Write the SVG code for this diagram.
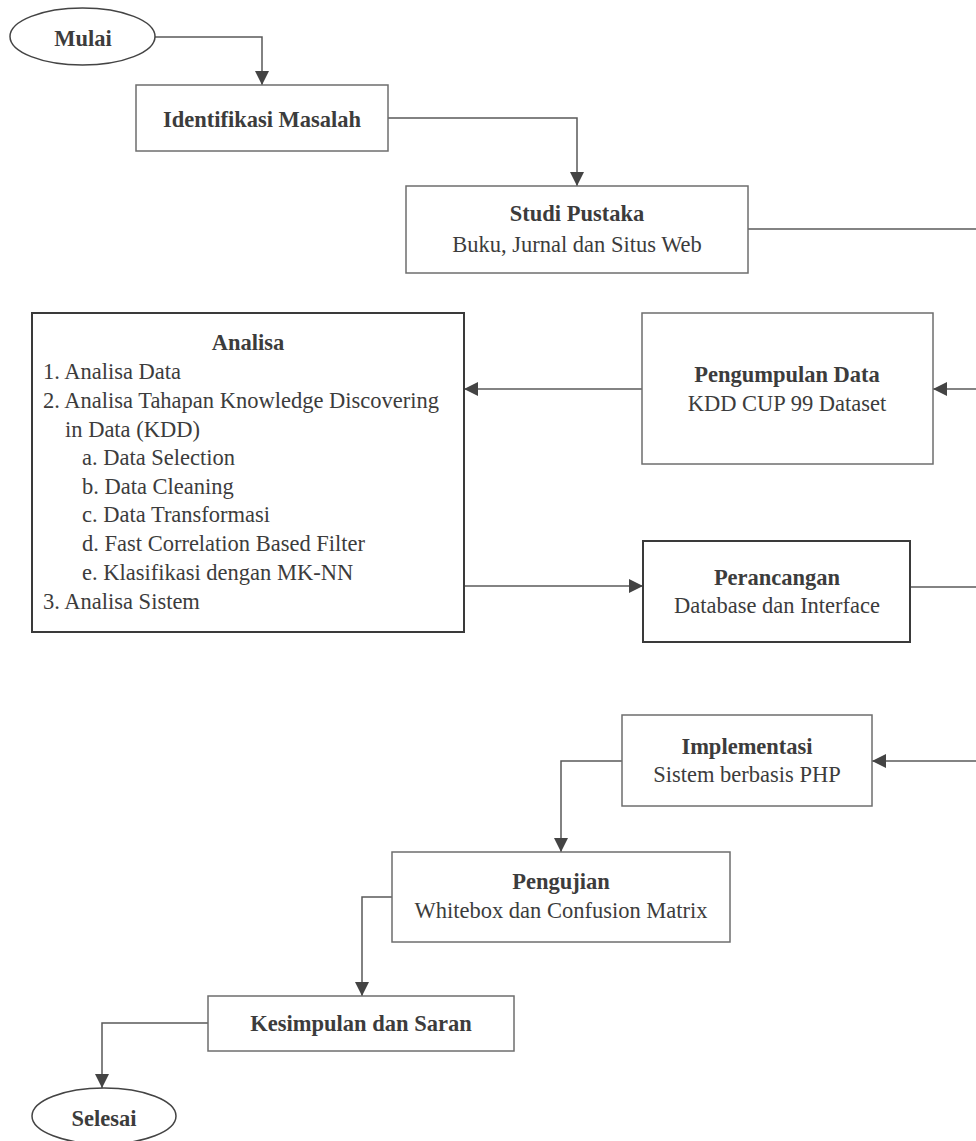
<svg xmlns="http://www.w3.org/2000/svg" width="976" height="1141" viewBox="0 0 976 1141">
<style>
  .t{font-family:"Liberation Serif","Times New Roman",serif;font-size:22.5px;fill:#3c3c3c}
  .b{font-weight:bold}
  .c{text-anchor:middle}
  .box{fill:#fff;stroke:#6e6e6e;stroke-width:1.5}
  .boxd{fill:#fff;stroke:#3a3a3a;stroke-width:2}
  .ell{fill:#fff;stroke:#444;stroke-width:1.5}
  .ln{fill:none;stroke:#5a5a5a;stroke-width:1.5}
</style>
<defs>
  <marker id="ah" viewBox="0 0 14 14" refX="14" refY="7" markerWidth="14" markerHeight="14" orient="auto" markerUnits="userSpaceOnUse">
    <path d="M0,0 L14,7 L0,14 z" fill="#444"/>
  </marker>
</defs>
<rect width="976" height="1141" fill="#fff"/>
<g id="connectors">
  <path class="ln" d="M155,37 H262 V85" marker-end="url(#ah)"/>
  <path class="ln" d="M388,118 H577 V186" marker-end="url(#ah)"/>
  <path class="ln" d="M748,229 H976"/>
  <path class="ln" d="M976,389 H933" marker-end="url(#ah)"/>
  <path class="ln" d="M642,389 H464" marker-end="url(#ah)"/>
  <path class="ln" d="M464,586 H643" marker-end="url(#ah)"/>
  <path class="ln" d="M910,587 H976"/>
  <path class="ln" d="M976,761 H872" marker-end="url(#ah)"/>
  <path class="ln" d="M622,761 H561 V852" marker-end="url(#ah)"/>
  <path class="ln" d="M392,897 H362 V996" marker-end="url(#ah)"/>
  <path class="ln" d="M208,1023 H102 V1088" marker-end="url(#ah)"/>
</g>
<g id="mulai">
  <ellipse class="ell" cx="82.5" cy="36.5" rx="72.5" ry="28.5"/>
  <text class="t b c" x="83" y="46">Mulai</text>
</g>
<g id="identifikasi">
  <rect class="box" x="136" y="85" width="252" height="66"/>
  <text class="t b c" x="262" y="127">Identifikasi Masalah</text>
</g>
<g id="studi">
  <rect class="box" x="406" y="186" width="342" height="87"/>
  <text class="t b c" x="577" y="221">Studi Pustaka</text>
  <text class="t c" x="577" y="252">Buku, Jurnal dan Situs Web</text>
</g>
<g id="pengumpulan">
  <rect class="box" x="642" y="313" width="291" height="151"/>
  <text class="t b c" x="787" y="382">Pengumpulan Data</text>
  <text class="t c" x="787" y="411">KDD CUP 99 Dataset</text>
</g>
<g id="analisa">
  <rect class="boxd" x="32" y="313" width="432" height="319"/>
  <text class="t b c" x="248" y="350">Analisa</text>
  <text class="t" x="43" y="379">1. Analisa Data</text>
  <text class="t" x="43" y="408">2. Analisa Tahapan Knowledge Discovering</text>
  <text class="t" x="65" y="437">in Data (KDD)</text>
  <text class="t" x="82" y="465">a. Data Selection</text>
  <text class="t" x="82" y="494">b. Data Cleaning</text>
  <text class="t" x="82" y="522">c. Data Transformasi</text>
  <text class="t" x="82" y="551">d. Fast Correlation Based Filter</text>
  <text class="t" x="82" y="580">e. Klasifikasi dengan MK-NN</text>
  <text class="t" x="43" y="609">3. Analisa Sistem</text>
</g>
<g id="perancangan">
  <rect class="boxd" x="643" y="541" width="267" height="101"/>
  <text class="t b c" x="777" y="585">Perancangan</text>
  <text class="t c" x="777" y="613">Database dan Interface</text>
</g>
<g id="implementasi">
  <rect class="box" x="622" y="715" width="250" height="91"/>
  <text class="t b c" x="747" y="754">Implementasi</text>
  <text class="t c" x="747" y="782">Sistem berbasis PHP</text>
</g>
<g id="pengujian">
  <rect class="box" x="392" y="852" width="338" height="90"/>
  <text class="t b c" x="561" y="889">Pengujian</text>
  <text class="t c" x="561" y="918">Whitebox dan Confusion Matrix</text>
</g>
<g id="kesimpulan">
  <rect class="box" x="208" y="996" width="306" height="55"/>
  <text class="t b c" x="361" y="1031">Kesimpulan dan Saran</text>
</g>
<g id="selesai">
  <ellipse class="ell" cx="104" cy="1116" rx="72" ry="28"/>
  <text class="t b c" x="104" y="1126">Selesai</text>
</g>
</svg>
